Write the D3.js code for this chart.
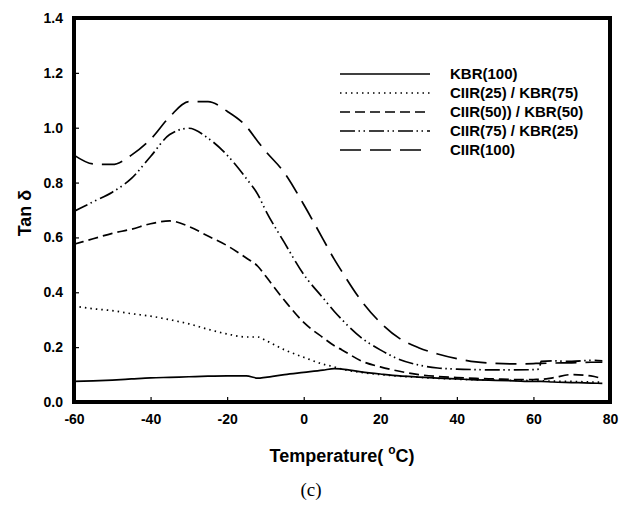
<!DOCTYPE html>
<html>
<head>
<meta charset="utf-8">
<script src="https://cdn.jsdelivr.net/npm/d3@7"></script>
<style>
  html, body { margin: 0; padding: 0; background: #fff; }
  svg text { font-family: "Liberation Sans", Arial, sans-serif; font-weight: bold; fill: #000; }
</style>
</head>
<body>
<div id="wrapper"></div>
<script>
// temperatures (deg C) shared by every series
const temps = [-60, -55, -50, -45, -40, -35, -30, -25, -20, -15, -12, -10, -5, 0, 5, 8, 10, 15,
  20, 25, 30, 35, 40, 45, 50, 55, 60, 61.5, 62, 65, 70, 75, 78]

const kbr100 = [0.075, 0.077, 0.080, 0.084, 0.088, 0.090, 0.092, 0.094, 0.095, 0.095, 0.087, 0.090, 0.100, 0.108, 0.116, 0.122, 0.120, 0.110,
  0.102, 0.095, 0.091, 0.087, 0.084, 0.081, 0.079, 0.077, 0.075, 0.075, 0.075, 0.073, 0.071, 0.069, 0.068]
const ciir25 = [0.350, 0.340, 0.333, 0.322, 0.313, 0.300, 0.285, 0.265, 0.248, 0.237, 0.237, 0.225, 0.190, 0.163, 0.138, 0.128, 0.120, 0.108,
  0.100, 0.094, 0.090, 0.086, 0.083, 0.081, 0.080, 0.079, 0.078, 0.077, 0.077, 0.076, 0.075, 0.073, 0.072]
const ciir50 = [0.575, 0.595, 0.615, 0.630, 0.650, 0.660, 0.640, 0.605, 0.570, 0.525, 0.495, 0.460, 0.370, 0.290, 0.235, 0.205, 0.190, 0.150,
  0.128, 0.112, 0.100, 0.093, 0.089, 0.086, 0.084, 0.082, 0.082, 0.083, 0.083, 0.088, 0.100, 0.095, 0.085]
const ciir75 = [0.695, 0.730, 0.765, 0.815, 0.895, 0.975, 0.998, 0.962, 0.900, 0.815, 0.757, 0.700, 0.580, 0.465, 0.380, 0.330, 0.300, 0.235,
  0.190, 0.155, 0.135, 0.124, 0.120, 0.118, 0.117, 0.117, 0.118, 0.120, 0.148, 0.150, 0.148, 0.152, 0.150]
const ciir100 = [0.900, 0.868, 0.866, 0.900, 0.958, 1.040, 1.095, 1.095, 1.060, 1.005, 0.950, 0.915, 0.835, 0.720, 0.595, 0.520, 0.475, 0.370,
  0.290, 0.232, 0.198, 0.175, 0.158, 0.146, 0.141, 0.139, 0.140, 0.141, 0.141, 0.142, 0.143, 0.145, 0.145]

const seriesNames = ['KBR(100)', 'CIIR(25) / KBR(75)', 'CIIR(50)) / KBR(50)', 'CIIR(75) / KBR(25)', 'CIIR(100)']
const seriesValues = [kbr100, ciir25, ciir50, ciir75, ciir100]
const dashes = ['none', '1.5,4', '10,5', '15,3.5,1.5,3.5,1.5,4', '21,9']

const xTicks = [-60, -40, -20, 0, 20, 40, 60, 80]
const yTicks = [0, 0.2, 0.4, 0.6, 0.8, 1.0, 1.2, 1.4]

const width = 637
const height = 506
const plotLeft = 74
const plotRight = 610
const plotTop = 18
const plotBottom = 402

const svg = d3.select('#wrapper').append('svg')
  .attr('width', width)
  .attr('height', height)

const x = d3.scaleLinear().domain([-60, 80]).range([plotLeft, plotRight])
const y = d3.scaleLinear().domain([0, 1.4]).range([plotBottom, plotTop])

// axes, ticks pointing inward; plain hyphen for negatives like the original
const xAxis = svg.append('g')
  .attr('transform', 'translate(0,' + plotBottom + ')')
  .call(d3.axisBottom(x).tickValues(xTicks).tickSizeInner(-5).tickSizeOuter(0).tickPadding(12).tickFormat(d => String(d)))
const yAxis = svg.append('g')
  .attr('transform', 'translate(' + plotLeft + ',0)')
  .call(d3.axisLeft(y).tickValues(yTicks).tickSizeInner(-5).tickSizeOuter(0).tickPadding(11).tickFormat(d => d.toFixed(1)))

xAxis.select('.domain').remove()
yAxis.select('.domain').remove()
svg.selectAll('.tick line').attr('stroke', '#000').attr('stroke-width', 1.2)
svg.selectAll('.tick text').style('font-size', '14px').attr('fill', '#000')

// curves
const line = d3.line()
  .x(d => x(d[0]))
  .y(d => y(d[1]))
  .curve(d3.curveMonotoneX)

seriesValues.forEach((vals, i) => {
  svg.append('path')
    .datum(temps.map((t, j) => [t, vals[j]]))
    .attr('d', line)
    .attr('fill', 'none')
    .attr('stroke', '#000')
    .attr('stroke-width', 1.7)
    .attr('stroke-dasharray', dashes[i])
})

// frame
svg.append('rect')
  .attr('x', plotLeft)
  .attr('y', plotTop)
  .attr('width', plotRight - plotLeft)
  .attr('height', plotBottom - plotTop)
  .attr('fill', 'none')
  .attr('stroke', '#000')
  .attr('stroke-width', 4)

// legend
const legend = svg.append('g').attr('transform', 'translate(340,74)')
seriesNames.forEach((name, i) => {
  const row = legend.append('g').attr('transform', 'translate(0,' + (i * 19) + ')')
  row.append('line')
    .attr('x1', 0).attr('x2', 90)
    .attr('stroke', '#000')
    .attr('stroke-width', 1.7)
    .attr('stroke-dasharray', dashes[i])
  row.append('text')
    .attr('x', 110)
    .attr('dy', '0.35em')
    .style('font-size', '15px')
    .text(name)
})

// axis titles
svg.append('text')
  .attr('transform', 'translate(31,213) rotate(-90)')
  .attr('text-anchor', 'middle')
  .style('font-size', '18px')
  .text('Tan δ')

const xt = svg.append('text')
  .attr('x', 342)
  .attr('y', 462)
  .attr('text-anchor', 'middle')
  .style('font-size', '18px')
xt.append('tspan').text('Temperature( ')
xt.append('tspan').attr('dy', -8).style('font-size', '12px').text('o')
xt.append('tspan').attr('dy', 8).text('C)')

svg.append('text')
  .attr('x', 311)
  .attr('y', 496)
  .attr('text-anchor', 'middle')
  .style('font-family', '"Liberation Serif", "Times New Roman", serif')
  .style('font-weight', 'normal')
  .style('font-size', '19px')
  .text('(c)')
</script>
</body>
</html>
